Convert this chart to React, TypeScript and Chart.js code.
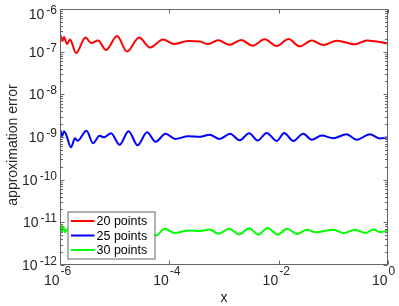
import React, { useEffect, useRef } from "react";
import { Chart, registerables } from "chart.js";

Chart.register(...registerables);

// ---- data ----
const redX = [1.021e-6, 1.111e-6, 1.184e-6, 1.343e-6, 1.524e-6, 1.963e-6, 2.93e-6, 3.695e-6, 4.963e-6, 6.954e-6, 1.106e-5, 1.686e-5, 2.796e-5, 4.445e-5, 7.689e-5, 1.223e-4, 2.206e-4, 3.658e-4, 5.125e-4, 7.814e-4, 1.269e-3, 2.061e-3, 3.346e-3, 5.549e-3, 9.203e-3, 1.514e-2, 2.427e-2, 4.027e-2, 6.62e-2, 0.1155, 0.2519, 0.4091, 1];
const redY = [2.452e-7, 1.772e-7, 2.2e-7, 1.507e-7, 1.921e-7, 9.263e-8, 2.141e-7, 1.59e-7, 1.82e-7, 1.089e-7, 2.322e-7, 1.0045e-7, 2.141e-7, 1.247e-7, 1.921e-7, 1.507e-7, 1.772e-7, 1.725e-7, 1.507e-7, 1.84e-7, 1.451e-7, 1.871e-7, 1.374e-7, 1.942e-7, 1.352e-7, 1.974e-7, 1.331e-7, 1.82e-7, 1.427e-7, 1.801e-7, 1.483e-7, 1.82e-7, 1.548e-7];

const blueX = [1.021e-6, 1.088e-6, 1.184e-6, 1.288e-6, 1.59e-6, 1.882e-6, 2.091e-6, 3.056e-6, 4.02e-6, 5.287e-6, 6.392e-6, 8.586e-6, 1.229e-5, 1.796e-5, 2.624e-5, 3.917e-5, 5.605e-5, 8.541e-5, 1.275e-4, 2.206e-4, 3.658e-4, 5.46e-4, 8.322e-4, 1.296e-3, 1.934e-3, 2.887e-3, 4.131e-3, 6.036e-3, 9.203e-3, 1.262e-2, 1.845e-2, 2.813e-2, 4.027e-2, 6.136e-2, 9.963e-2, 0.1746, 0.2684, 0.4642, 0.7137, 1];
const blueY = [1.44e-9, 1.041e-9, 1.365e-9, 1.16e-9, 5.745e-10, 9.346e-10, 8.165e-10, 1.402e-9, 7.133e-10, 1.07e-9, 9.865e-10, 1.225e-9, 6.577e-10, 1.365e-9, 6.402e-10, 1.293e-9, 7.735e-10, 1.192e-9, 8.999e-10, 1.041e-9, 1.014e-9, 1.129e-9, 8.999e-10, 1.192e-9, 8.389e-10, 1.225e-9, 8.253e-10, 1.245e-9, 8.077e-10, 1.245e-9, 8.077e-10, 1.192e-9, 8.619e-10, 1.081e-9, 9.346e-10, 1.16e-9, 8.619e-10, 1.16e-9, 9.196e-10, 9.865e-10];

const greenX = [1.021e-6, 1.088e-6, 1.159e-6, 1.235e-6, 1.326e-6, 1.659e-6, 2.324e-6, 3.256e-6, 4.759e-6, 7.566e-6, 1.203e-5, 1.913e-5, 3.172e-5, 5.724e-5, 8.189e-5, 1.259e-4, 2.206e-4, 3.658e-4, 5.46e-4, 7.98e-4, 1.243e-3, 1.894e-3, 2.887e-3, 4.22e-3, 6.296e-3, 9.599e-3, 1.415e-2, 2.157e-2, 3.288e-2, 4.667e-2, 0.1009, 0.1538, 0.2519, 0.384, 0.5448, 0.7228, 1];
const greenY = [8.935e-12, 6.117e-12, 8.018e-12, 5.797e-12, 6.818e-12, 4.424e-12, 7.596e-12, 4.93e-12, 7.196e-12, 4.93e-12, 7.596e-12, 4.93e-12, 7.196e-12, 4.93e-12, 7.08e-12, 5.643e-12, 6.459e-12, 6.287e-12, 6.818e-12, 5.404e-12, 7.08e-12, 5.203e-12, 7.274e-12, 5.147e-12, 7.392e-12, 5.147e-12, 7.08e-12, 5.346e-12, 6.708e-12, 5.892e-12, 6.708e-12, 5.583e-12, 6.708e-12, 5.583e-12, 6.818e-12, 5.892e-12, 6.459e-12];

const seriesLabels = ["20 points", "25 points", "30 points"];
const seriesColors = ["#ff0000", "#0000ff", "#00ff00"];

const xTickValues = [1e-6, 1e-4, 1e-2, 1];
const xTickExponents = ["-6", "-4", "-2", "0"];
const yTickValues = [1e-12, 1e-11, 1e-10, 1e-9, 1e-8, 1e-7, 1e-6];
const yTickExponents = ["-12", "-11", "-10", "-9", "-8", "-7", "-6"];

const xTitle = "x";
const yTitle = "approximation error";

const FONT = '"Liberation Sans", Arial, Helvetica, sans-serif';
const TEXT_COLOR = "#262626";
const FRAME_COLOR = "#666666";

export default function App() {
  const ref = useRef<HTMLCanvasElement>(null);

  useEffect(() => {
    document.body.style.margin = "0";
    const canvas = ref.current!;
    const pts = (xs: number[], ys: number[]) => xs.map((x, i) => ({ x, y: ys[i] }));

    const axesPlugin = {
      id: "matlabAxes",
      afterDatasetsDraw(chart: any) {
        const ctx: CanvasRenderingContext2D = chart.ctx;
        const { left, right, top, bottom } = chart.chartArea;
        const xs = chart.scales.x;
        const ys = chart.scales.y;
        ctx.save();

        // legend box
        const lx = 67.5, ly = 211.5, lw = 87, lh = 47;
        ctx.fillStyle = "#ffffff";
        ctx.fillRect(lx, ly, lw, lh);
        ctx.strokeStyle = FRAME_COLOR;
        ctx.lineWidth = 1;
        ctx.strokeRect(lx + 0.5, ly + 0.5, lw, lh);
        const rowY = [221, 235.5, 250];
        ctx.font = `12.5px ${FONT}`;
        ctx.textAlign = "left";
        ctx.textBaseline = "alphabetic";
        for (let i = 0; i < 3; i++) {
          ctx.strokeStyle = seriesColors[i];
          ctx.lineWidth = 2;
          ctx.beginPath();
          ctx.moveTo(71, rowY[i]);
          ctx.lineTo(94.5, rowY[i]);
          ctx.stroke();
          ctx.fillStyle = "#000000";
          ctx.fillText(seriesLabels[i], 96.5, rowY[i] + 4);
        }

        // frame
        ctx.strokeStyle = FRAME_COLOR;
        ctx.lineWidth = 1;
        const L = Math.round(left) + 0.5, R = Math.round(right) - 0.5;
        const T = Math.round(top) + 0.5, B = Math.round(bottom) - 0.5;
        ctx.strokeRect(L, T, R - L, B - T);

        // y ticks (major + minor), both sides
        ctx.beginPath();
        for (let k = -12; k <= -6; k++) {
          for (let m = 1; m <= 9; m++) {
            if (k === -6 && m > 1) break;
            const v = m * Math.pow(10, k);
            const py = Math.round(ys.getPixelForValue(v)) + 0.5;
            const len = m === 1 ? 4 : 2.5;
            ctx.moveTo(L, py);
            ctx.lineTo(L + len, py);
            ctx.moveTo(R, py);
            ctx.lineTo(R - len, py);
          }
        }
        // x ticks, top and bottom
        for (const v of xTickValues) {
          const px = Math.round(xs.getPixelForValue(v)) + 0.5;
          ctx.moveTo(px, B);
          ctx.lineTo(px, B - 4);
          ctx.moveTo(px, T);
          ctx.lineTo(px, T + 4);
        }
        ctx.stroke();

        // y tick labels: 10^k
        ctx.fillStyle = TEXT_COLOR;
        ctx.textBaseline = "alphabetic";
        yTickValues.forEach((v, i) => {
          const py = Math.max(ys.getPixelForValue(v), 13.5);
          ctx.font = `12px ${FONT}`;
          ctx.textAlign = "right";
          const ew = ctx.measureText(yTickExponents[i]).width;
          ctx.fillText(yTickExponents[i], 57, py);
          ctx.font = `14px ${FONT}`;
          ctx.fillText("10", 57 - ew - 2, py + 5);
        });

        // x tick labels
        xTickValues.forEach((v, i) => {
          const px = xs.getPixelForValue(v);
          ctx.font = `14px ${FONT}`;
          ctx.textAlign = "right";
          ctx.fillText("10", px - 0.5, 284.5);
          ctx.font = `12px ${FONT}`;
          ctx.textAlign = "left";
          ctx.fillText(xTickExponents[i], px + 0.5, 275);
        });

        // axis titles
        ctx.font = `14px ${FONT}`;
        ctx.textAlign = "center";
        ctx.fillText(xTitle, (left + right) / 2, 302);
        ctx.save();
        ctx.translate(16.5, 145);
        ctx.rotate(-Math.PI / 2);
        ctx.fillText(yTitle, 0, 0);
        ctx.restore();

        ctx.restore();
      },
    };

    const chart = new Chart(canvas, {
      type: "line",
      data: {
        datasets: [
          { label: seriesLabels[0], data: pts(redX, redY), borderColor: seriesColors[0] },
          { label: seriesLabels[1], data: pts(blueX, blueY), borderColor: seriesColors[1] },
          { label: seriesLabels[2], data: pts(greenX, greenY), borderColor: seriesColors[2] },
        ].map((d) => ({
          ...d,
          backgroundColor: d.borderColor,
          fill: false,
          pointRadius: 0,
          borderWidth: 2,
          cubicInterpolationMode: "monotone" as const,
        })),
      },
      options: {
        responsive: false,
        animation: false,
        events: [],
        layout: { padding: { left: 0, right: 11, top: 9, bottom: 0 } },
        plugins: { legend: { display: false }, tooltip: { enabled: false }, title: { display: false } },
        scales: {
          x: {
            type: "logarithmic",
            min: 1e-6,
            max: 1,
            grid: { display: false },
            border: { display: false },
            ticks: { display: false },
            afterFit: (s: any) => {
              s.height = 41;
            },
          },
          y: {
            type: "logarithmic",
            min: 1e-12,
            max: 1e-6,
            grid: { display: false },
            border: { display: false },
            ticks: { display: false },
            afterFit: (s: any) => {
              s.width = 60;
            },
          },
        },
      },
      plugins: [axesPlugin],
    });
    return () => chart.destroy();
  }, []);

  return <canvas ref={ref} width={399} height={306} style={{ display: "block" }} />;
}
